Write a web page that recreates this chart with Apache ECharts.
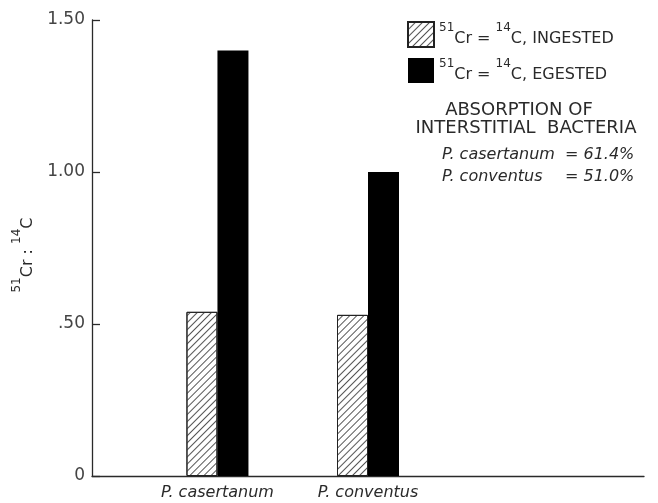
<!DOCTYPE html>
<html style="height: 100%">
<head>
	<meta charset="utf-8">
	<script src="https://cdn.jsdelivr.net/npm/echarts@6/dist/echarts.min.js"></script>
</head>
<body style="margin: 0; height: 100%; background: #fff">
	<div id="container" style="width: 658px; height: 503px"></div>
	<script>
		// data
		var species = ['P. casertanum', 'P. conventus'];
		var speciesSlot = [2, 5]; // where each pair sits along the x axis
		var ingested = [0.54, 0.53];
		var egested = [1.40, 1.00];
		var yTickLabels = ['0', '.50', '1.00', '1.50'];
		var absorption = ['61.4%', '51.0%'];

		var slotCount = 11;
		var font = 'DejaVu Sans';
		var ink = '#2a2a2a';

		var slots = [];
		for (var i = 0; i < slotCount; i++) slots.push(' '.repeat(i));
		species.forEach(function(s, k) { slots[speciesSlot[k]] = s; });

		var ingData = ingested.map(function(v, k) { return [speciesSlot[k], v]; });
		var egData = egested.map(function(v, k) { return [speciesSlot[k], v]; });

		var rich = {
			sup: { fontFamily: font, fontSize: 12, color: ink, verticalAlign: 'top', lineHeight: 25 },
			n: { fontFamily: font, fontSize: 16, color: ink, verticalAlign: 'bottom', lineHeight: 25 }
		};

		var dom = document.getElementById('container');
		var myChart = echarts.init(dom);
		var option = {
			animation: false,
			grid: { left: 92, right: 14, top: 20, bottom: 27 },
			legend: {
				orient: 'vertical',
				left: 402,
				top: 16,
				icon: 'rect',
				itemWidth: 26,
				itemHeight: 25,
				itemGap: 10,
				selectedMode: false,
				formatter: function(name) {
					return '{sup|51}{n|Cr = }{sup|14}{n|C, ' + name + '}';
				},
				textStyle: { rich: rich }
			},
			xAxis: {
				type: 'category',
				data: slots,
				axisLine: { lineStyle: { color: ink, width: 1.3 } },
				axisTick: { show: false },
				axisLabel: {
					interval: 0,
					margin: 9,
					fontFamily: font,
					fontStyle: 'italic',
					fontSize: 16,
					color: ink
				}
			},
			yAxis: {
				type: 'value',
				min: 0,
				max: 1.5,
				interval: 0.5,
				splitLine: { show: false },
				axisLine: { show: true, lineStyle: { color: ink, width: 1.3 } },
				axisTick: { show: true, inside: true, length: 8, lineStyle: { color: ink, width: 1.3 } },
				axisLabel: {
					margin: 7,
					fontFamily: font,
					fontSize: 17,
					color: '#444',
					formatter: function(v) { return yTickLabels[Math.round(v / 0.5)]; }
				},
				name: '{sup|51}{n|Cr : }{sup|14}{n|C}',
				nameLocation: 'middle',
				nameRotate: 90,
				nameGap: 54,
				nameTextStyle: { rich: rich, padding: [0, 14, 0, 0] }
			},
			graphic: [
				{ type: 'text', x: 519, y: 110, style: { text: 'ABSORPTION OF', font: '18px "DejaVu Sans"', fill: ink, align: 'center', verticalAlign: 'middle' } },
				{ type: 'text', x: 526, y: 128, style: { text: 'INTERSTITIAL  BACTERIA', font: '18px "DejaVu Sans"', fill: ink, align: 'center', verticalAlign: 'middle' } },
				{ type: 'text', x: 442, y: 155, style: { text: species[0], font: 'italic 16px "DejaVu Sans"', fill: ink, verticalAlign: 'middle' } },
				{ type: 'text', x: 565, y: 155, style: { text: '= ' + absorption[0], font: 'italic 16px "DejaVu Sans"', fill: ink, verticalAlign: 'middle' } },
				{ type: 'text', x: 442, y: 177, style: { text: species[1], font: 'italic 16px "DejaVu Sans"', fill: ink, verticalAlign: 'middle' } },
				{ type: 'text', x: 565, y: 177, style: { text: '= ' + absorption[1], font: 'italic 16px "DejaVu Sans"', fill: ink, verticalAlign: 'middle' } }
			],
			series: [
				{
					name: 'INGESTED',
					type: 'bar',
					barWidth: 31,
					barGap: '0%',
					data: ingData,
					itemStyle: {
						color: '#fff',
						borderColor: '#222',
						borderWidth: 1,
						decal: {
							symbol: 'rect',
							symbolSize: 1,
							dashArrayX: [1, 0],
							dashArrayY: [1, 4],
							rotation: -Math.PI / 4,
							color: '#555'
						}
					}
				},
				{
					name: 'EGESTED',
					type: 'bar',
					barWidth: 31,
					barGap: '0%',
					data: egData,
					itemStyle: { color: '#000' }
				}
			]
		};
		myChart.setOption(option);
	</script>
</body>
</html>
